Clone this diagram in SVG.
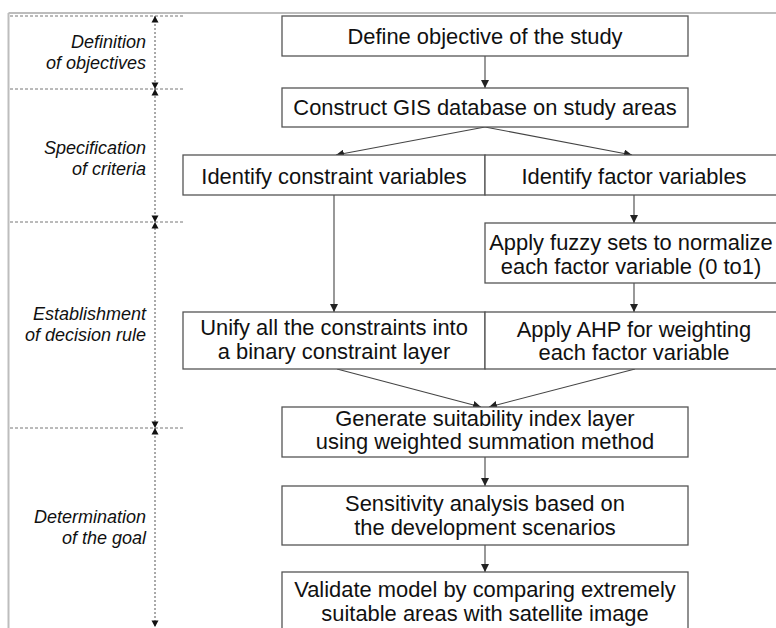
<svg xmlns="http://www.w3.org/2000/svg" width="776" height="628" viewBox="0 0 776 628">
  <style>
    .box { fill: #ffffff; stroke: #555555; stroke-width: 1.3; }
    .t { font-family: "Liberation Sans", Arial, sans-serif; font-size: 21.9px; fill: #111111; text-anchor: middle; }
    .phase { font-family: "Liberation Sans", Arial, sans-serif; font-size: 18px; font-style: italic; fill: #111111; text-anchor: end; }
    .conn { fill: none; stroke: #444444; stroke-width: 1.1; }
    .sep { stroke: #777777; stroke-width: 1; stroke-dasharray: 3 2; }
    .span { stroke: #555555; stroke-width: 1; stroke-dasharray: 2 2; }
    .tick { fill: #111111; }
  </style>
  <defs>
    <marker id="arrow" viewBox="0 0 10 10" refX="10" refY="5" markerWidth="8" markerHeight="8" markerUnits="userSpaceOnUse" orient="auto">
      <path d="M0,0 L10,5 L0,10 z" fill="#222222"/>
    </marker>
  </defs>

  <rect width="776" height="628" fill="#ffffff"/>

  <!-- outer frame -->
  <g id="frame">
    <line x1="8.5" y1="13" x2="776" y2="13" stroke="#bdbdbd" stroke-width="2"/>
    <line x1="8.5" y1="13" x2="8.5" y2="628" stroke="#bdbdbd" stroke-width="2"/>
  </g>

  <!-- phase separators and span line -->
  <g id="phases">
    <line class="sep" x1="10" y1="16" x2="185" y2="16"/>
    <line class="sep" x1="10" y1="89" x2="185" y2="89"/>
    <line class="sep" x1="10" y1="222" x2="185" y2="222"/>
    <line class="sep" x1="10" y1="428" x2="185" y2="428"/>
    <line class="span" x1="155" y1="16" x2="155" y2="628"/>
    <path class="tick" d="M155,16 l-3.5,6.5 h7 z"/>
    <path class="tick" d="M155,89 l-3.5,-6.5 h7 z"/>
    <path class="tick" d="M155,89 l-3.5,6.5 h7 z"/>
    <path class="tick" d="M155,222 l-3.5,-6.5 h7 z"/>
    <path class="tick" d="M155,222 l-3.5,6.5 h7 z"/>
    <path class="tick" d="M155,428 l-3.5,-6.5 h7 z"/>
    <path class="tick" d="M155,428 l-3.5,6.5 h7 z"/>
    <path class="tick" d="M155,627 l-3.5,-6.5 h7 z"/>
    <text class="phase" x="146" y="48">Definition</text>
    <text class="phase" x="146" y="68.5">of objectives</text>
    <text class="phase" x="146" y="153.5">Specification</text>
    <text class="phase" x="146" y="175">of criteria</text>
    <text class="phase" x="146" y="320">Establishment</text>
    <text class="phase" x="146" y="340.5">of decision rule</text>
    <text class="phase" x="146" y="522.5">Determination</text>
    <text class="phase" x="146" y="544">of the goal</text>
  </g>

  <!-- connectors -->
  <g id="connectors">
    <line class="conn" x1="485" y1="56" x2="485" y2="88" marker-end="url(#arrow)"/>
    <line class="conn" x1="485" y1="127" x2="336" y2="155" marker-end="url(#arrow)"/>
    <line class="conn" x1="485" y1="127" x2="632" y2="155" marker-end="url(#arrow)"/>
    <line class="conn" x1="334" y1="195" x2="334" y2="312" marker-end="url(#arrow)"/>
    <line class="conn" x1="634" y1="195" x2="634" y2="223" marker-end="url(#arrow)"/>
    <line class="conn" x1="634" y1="283" x2="634" y2="312" marker-end="url(#arrow)"/>
    <line class="conn" x1="337" y1="369" x2="481" y2="407" marker-end="url(#arrow)"/>
    <line class="conn" x1="635" y1="369" x2="489" y2="407" marker-end="url(#arrow)"/>
    <line class="conn" x1="485" y1="457" x2="485" y2="486" marker-end="url(#arrow)"/>
    <line class="conn" x1="485" y1="545" x2="485" y2="572" marker-end="url(#arrow)"/>
  </g>

  <g id="define-objective">
    <rect class="box" x="282" y="16" width="406" height="40"/>
    <text class="t" x="485" y="43.5">Define objective of the study</text>
  </g>

  <g id="construct-gis">
    <rect class="box" x="282" y="88" width="406" height="39"/>
    <text class="t" x="485" y="115">Construct GIS database on study areas</text>
  </g>

  <g id="constraint-variables">
    <rect class="box" x="183" y="155" width="302" height="40"/>
    <text class="t" x="334" y="184">Identify constraint variables</text>
  </g>

  <g id="factor-variables">
    <rect class="box" x="485" y="155" width="300" height="40"/>
    <text class="t" x="634" y="184">Identify factor variables</text>
  </g>

  <g id="fuzzy-sets">
    <rect class="box" x="485" y="223" width="300" height="60"/>
    <text class="t" x="631" y="249.5">Apply fuzzy sets to normalize</text>
    <text class="t" x="631" y="273.5">each factor variable (0 to1)</text>
  </g>

  <g id="unify-constraints">
    <rect class="box" x="183" y="312" width="302" height="57"/>
    <text class="t" x="334" y="334.5">Unify all the constraints into</text>
    <text class="t" x="334" y="358.5">a binary constraint layer</text>
  </g>

  <g id="ahp-weighting">
    <rect class="box" x="485" y="312" width="300" height="57"/>
    <text class="t" x="634" y="336.5">Apply AHP for weighting</text>
    <text class="t" x="634" y="360">each factor variable</text>
  </g>

  <g id="suitability-index">
    <rect class="box" x="282" y="407" width="406" height="50"/>
    <text class="t" x="485" y="425.5">Generate suitability index layer</text>
    <text class="t" x="485" y="449">using weighted summation method</text>
  </g>

  <g id="sensitivity-analysis">
    <rect class="box" x="282" y="486" width="406" height="59"/>
    <text class="t" x="485" y="511">Sensitivity analysis based on</text>
    <text class="t" x="485" y="535">the development scenarios</text>
  </g>

  <g id="validate-model">
    <rect class="box" x="282" y="572" width="406" height="62"/>
    <text class="t" x="485" y="597">Validate model by comparing extremely</text>
    <text class="t" x="485" y="621">suitable areas with satellite image</text>
  </g>
</svg>
